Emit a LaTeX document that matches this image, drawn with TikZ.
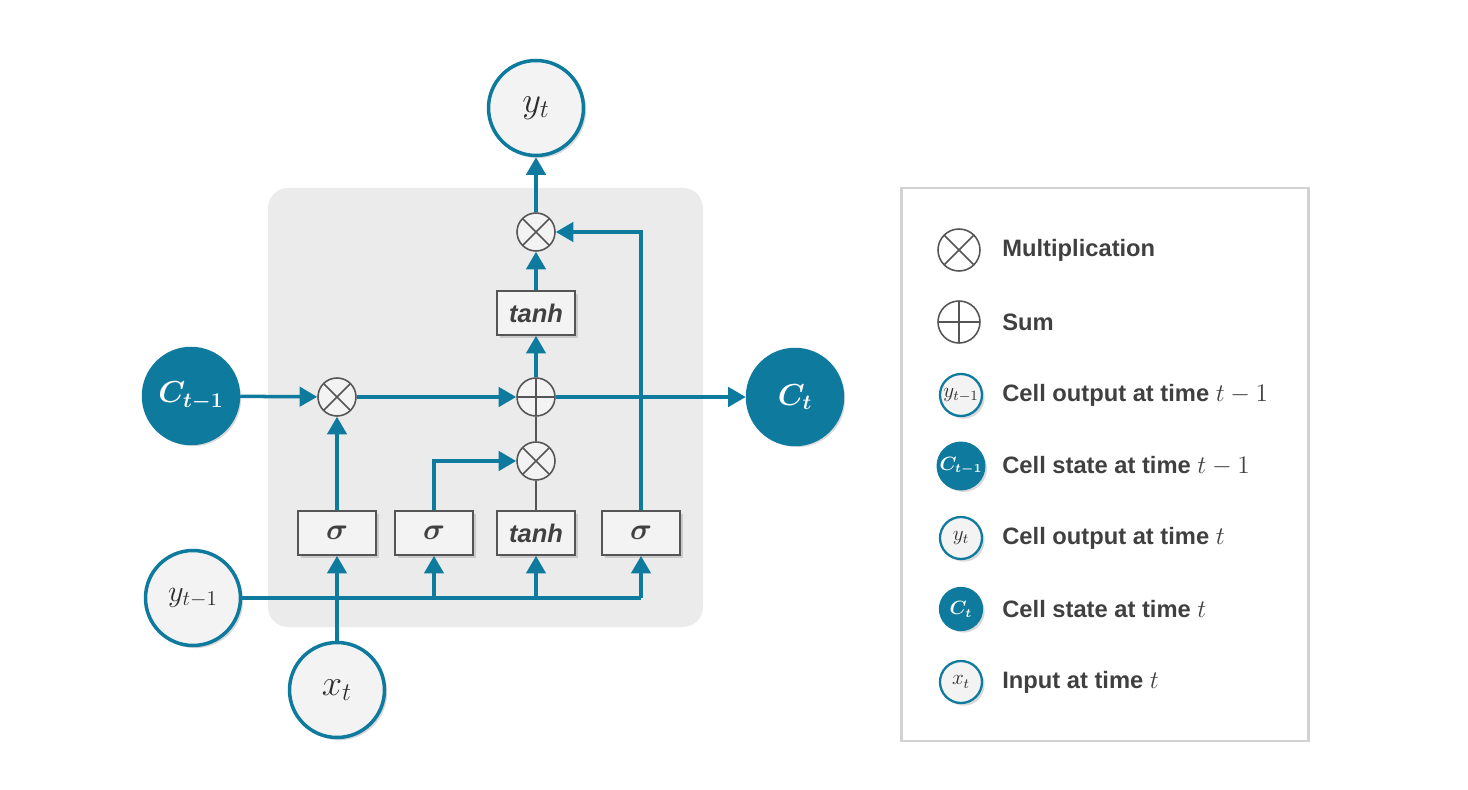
\documentclass[tikz,border=0pt]{standalone}
\usepackage{fontspec}
\setsansfont{Liberation Sans}
\usepackage{bm}
\usetikzlibrary{arrows.meta,shadows}

\definecolor{lstmteal}{RGB}{14,122,158}
\definecolor{lightfill}{RGB}{243,243,243}
\definecolor{cellbg}{RGB}{235,235,235}
\definecolor{textgray}{RGB}{64,64,64}
\definecolor{mathgray}{RGB}{45,45,45}
\definecolor{opgray}{RGB}{85,85,85}
\definecolor{framegray}{RGB}{210,210,210}

\tikzset{
  flow/.style={draw=lstmteal, line width=2pt, -{Triangle[width=11pt,length=10pt]}},
  bus/.style={draw=lstmteal, line width=2pt},
  link/.style={draw=opgray, line width=0.9pt},
  softshadow/.style={drop shadow={opacity=0.3, shadow xshift=1.5pt, shadow yshift=-1.5pt}},
  outvar/.style={circle, draw=lstmteal, line width=2pt, fill=lightfill, minimum size=1.9cm,
    inner sep=0pt, softshadow, text=mathgray, font=\fontsize{20}{24}\selectfont},
  statevar/.style={outvar, fill=lstmteal, text=white, font=\fontsize{17}{20}\selectfont},
  gate/.style={rectangle, draw=opgray, line width=1pt, fill=lightfill, minimum width=1.56cm,
    minimum height=0.88cm, inner sep=0pt, softshadow, text=textgray,
    font=\sffamily\bfseries\itshape\fontsize{14.5}{17}\selectfont},
  sigmagate/.style={gate, font=\fontsize{19}{22}\selectfont},
  mult/.style={circle, draw=opgray, line width=0.9pt, fill=lightfill, minimum size=0.76cm, inner sep=0pt,
    path picture={\draw[opgray, line width=0.9pt]
      (path picture bounding box.north west) -- (path picture bounding box.south east)
      (path picture bounding box.north east) -- (path picture bounding box.south west);}},
  sum/.style={mult, path picture={\draw[opgray, line width=0.9pt]
      (path picture bounding box.north) -- (path picture bounding box.south)
      (path picture bounding box.west) -- (path picture bounding box.east);}},
  keyop/.style={minimum size=0.84cm, fill=white},
  keyvar/.style={minimum size=0.84cm, line width=1.3pt, font=\fontsize{11.5}{13}\selectfont},
  keystate/.style={keyvar, font=\fontsize{10.5}{12}\selectfont},
  keytext/.style={anchor=west, inner sep=0pt, text=textgray, font=\sffamily\bfseries\fontsize{13.5}{16}\selectfont}
}

\begin{document}
\begin{tikzpicture}[x=0.02cm, y=-0.02cm]
\useasboundingbox (0,0) rectangle (1468,790);

% cell body
\fill[cellbg, rounded corners=0.4cm] (268,188) rectangle (703,627);

% inputs, outputs
\node[outvar] (yt) at (536,108) {$y_t$};
\node[statevar] (ct1) at (191,396) {$\bm{C_{t-1}}$};
\node[statevar] (ct) at (795,397) {$\bm{C_t}$};
\node[outvar, font=\fontsize{18}{22}\selectfont] (yt1) at (193,598) {$y_{t-1}$};
\node[outvar] (xt) at (337,690) {$x_t$};

% operators
\node[mult] (mO) at (536,232) {};
\node[mult] (m1) at (337,397) {};
\node[sum] (plus) at (536,397) {};
\node[mult] (m2) at (536,461) {};

% gates
\node[gate] (tanhO) at (536,313) {tanh};
\node[sigmagate] (sg1) at (337,533) {$\bm{\sigma}$};
\node[sigmagate] (sg2) at (434,533) {$\bm{\sigma}$};
\node[gate] (tanhI) at (536,533) {tanh};
\node[sigmagate] (sg3) at (641,533) {$\bm{\sigma}$};

% cell state line
\draw[flow] (ct1) -- (m1);
\draw[flow] (m1) -- (plus);
\draw[flow] (plus) -- (ct);

% output path
\draw[flow] (plus) -- (tanhO);
\draw[flow] (tanhO) -- (mO);
\draw[flow] (mO) -- (yt);
\draw[flow] (sg3) |- (mO);

% gate outputs
\draw[flow] (sg1) -- (m1);
\draw[flow] (sg2) |- (m2);
\draw[link] (tanhI) -- (m2);
\draw[link] (m2) -- (plus);

% inputs to gates
\coordinate (busend) at (sg3 |- yt1);
\draw[bus] (yt1) -- (busend);
\draw[flow] (sg2 |- yt1) -- (sg2);
\draw[flow] (tanhI |- yt1) -- (tanhI);
\draw[flow] (busend) -- (sg3);
\draw[flow] (xt) -- (sg1);

% legend
\draw[framegray, line width=1.7pt] (901,188) rectangle (1308,741);
\node[mult, keyop] (kmult) at (959,250) {};
\node[keytext] (tmult) at (1002,250) {Multiplication};
\node[sum, keyop] (ksum) at (959,322) {};
\node[keytext] (tsum) at (1002,322) {Sum};
\node[outvar, keyvar] (kyt1) at (961,395) {$y_{t-1}$};
\node[keytext] (tyt1) at (1002,395) {Cell output at time $t-1$};
\node[statevar, keystate] (kct1) at (961,466) {$\bm{C_{t-1}}$};
\node[keytext] (tct1) at (1002,466) {Cell state at time $t-1$};
\node[outvar, keyvar] (kyt) at (961,538) {$y_t$};
\node[keytext] (tyt) at (1002,538) {Cell output at time $t$};
\node[statevar, keystate] (kct) at (961,609) {$\bm{C_t}$};
\node[keytext] (tct) at (1002,609) {Cell state at time $t$};
\node[outvar, keyvar] (kxt) at (961,682) {$x_t$};
\node[keytext] (txt) at (1002,682) {Input at time $t$};

\end{tikzpicture}
\end{document}
